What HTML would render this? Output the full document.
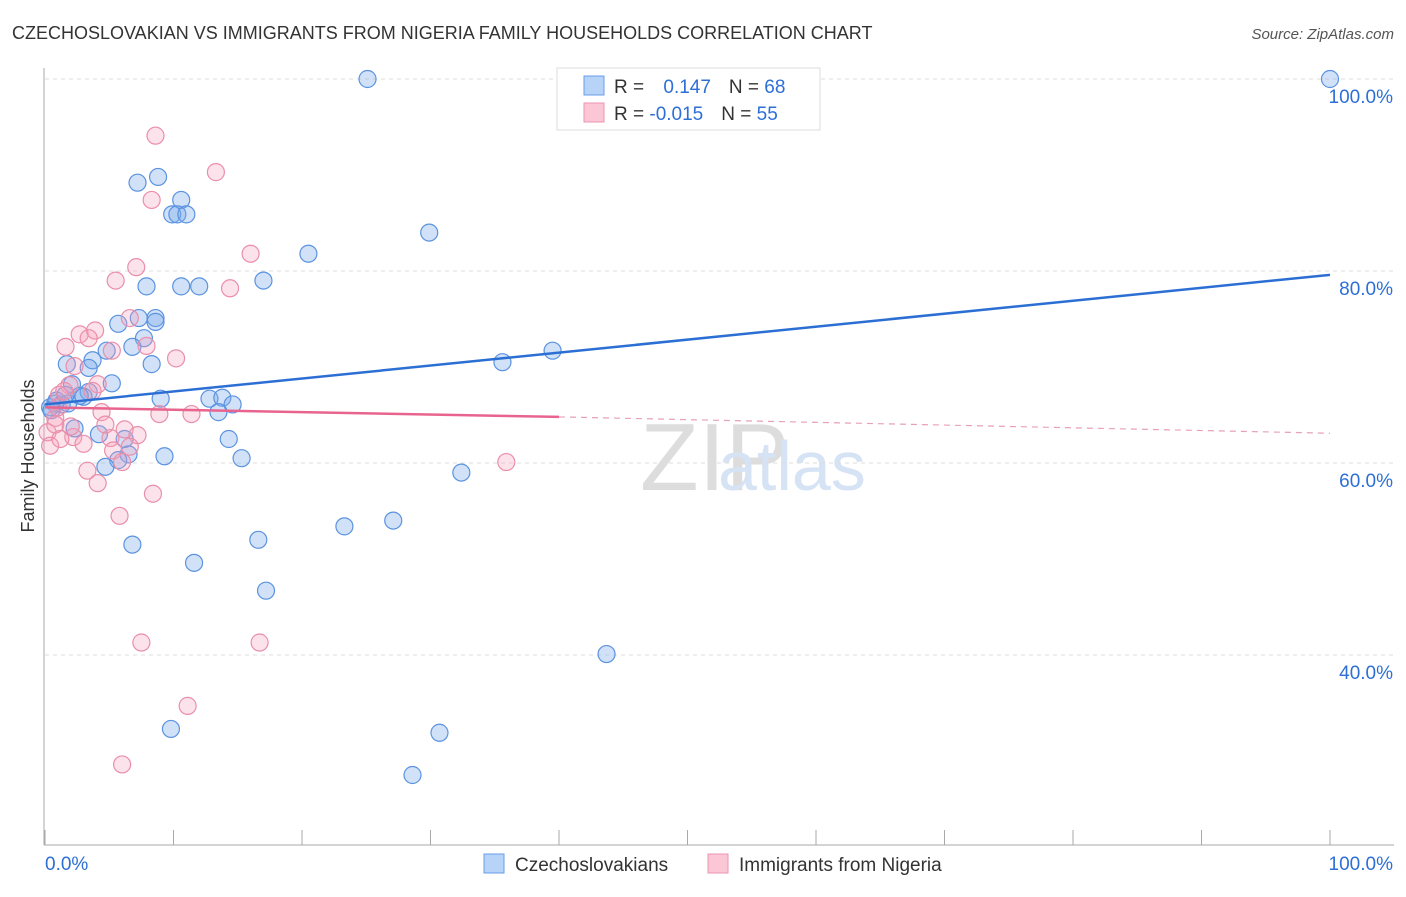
<!DOCTYPE html>
<html><head><meta charset="utf-8"><style>
body{margin:0;background:#fff;font-family:"Liberation Sans",sans-serif;}
svg text{font-family:"Liberation Sans",sans-serif;}
</style></head><body>
<svg width="1406" height="892" id="chart">
<text x="12" y="39" font-size="18" fill="#333">CZECHOSLOVAKIAN VS IMMIGRANTS FROM NIGERIA FAMILY HOUSEHOLDS CORRELATION CHART</text>
<text x="1394" y="39" font-size="15" fill="#555" font-style="italic" text-anchor="end">Source: ZipAtlas.com</text>
<text x="34" y="456" font-size="18" fill="#333" transform="rotate(-90 34 456)" text-anchor="middle">Family Households</text>
<text x="640" y="490" font-size="96" fill="#ddd" font-family="Liberation Serif">ZIP</text>
<text x="718" y="490" font-size="70" fill="#d5e3f5">atlas</text>
<g id="grid"></g><g id="pts"></g><g id="lines"></g>
<g>
<rect x="557" y="68" width="263" height="62" fill="#fff" stroke="#ddd"/>
<rect x="584" y="76" width="20" height="19" fill="#b7d3f7" stroke="#6a9ee8"/>
<rect x="584" y="103" width="20" height="19" fill="#fbc7d6" stroke="#ee93ae"/>
<text x="614" y="93" font-size="19" fill="#333">R = <tspan fill="#2d6fd6" dx="14">0.147</tspan><tspan dx="18">N = </tspan><tspan fill="#2d6fd6">68</tspan></text>
<text x="614" y="120" font-size="19" fill="#333">R = <tspan fill="#2d6fd6">-0.015</tspan><tspan dx="18">N = </tspan><tspan fill="#2d6fd6">55</tspan></text>
</g>
<g>
<rect x="484" y="854" width="20" height="19" fill="#b7d3f7" stroke="#6a9ee8"/>
<text x="515" y="871" font-size="19" fill="#333">Czechoslovakians</text>
<rect x="708" y="854" width="20" height="19" fill="#fbc7d6" stroke="#ee93ae"/>
<text x="739" y="871" font-size="19" fill="#333">Immigrants from Nigeria</text>
</g>
</svg>
<script>
const blueX=[25.1,100,49.8,7.2,8.8,10.6,9.9,10.3,11,29.9,20.5,17,7.9,10.6,12,5.7,7.3,8.6,8.6,7.7,6.8,4.8,3.7,1.7,8.3,3.4,35.6,39.5,5.2,2.1,3.4,3,9,12.8,13.8,14.6,13.5,0.8,1.3,1.8,0.4,2.3,4.2,14.3,6.2,9.3,15.3,6.5,5.7,4.7,32.4,23.3,27.1,16.6,6.8,11.6,17.2,43.7,9.8,30.7,28.6,2.7,0.9,1.6,0.5];
const blueY=[100,100,100,89.2,89.8,87.4,85.9,85.9,85.9,84,81.8,79,78.4,78.4,78.4,74.5,75.1,75.1,74.7,73,72.1,71.7,70.7,70.3,70.3,69.9,70.5,71.7,68.3,68.2,67.4,66.9,66.7,66.7,66.8,66.1,65.3,66.2,66.1,66.2,65.8,63.6,63,62.5,62.5,60.7,60.5,60.9,60.3,59.6,59,53.4,54,52,51.5,49.6,46.7,40.1,32.3,31.9,27.5,67,66.5,67.1,65.5];
const pinkX=[8.6,13.3,8.3,16,5.5,7.1,14.4,6.6,2.7,3.9,3.4,1.6,5.2,7.9,10.2,2.3,1.9,4.1,1.1,1.5,3.7,4.4,8.9,11.4,0.8,0.2,0.4,2.2,3,5.1,6.2,7.2,6.6,5.3,6,3.3,4.1,8.4,35.9,5.8,7.5,16.7,11.1,6,0.8,1.2,2,4.7,1];
const pinkY=[94.1,90.3,87.4,81.8,79,80.4,78.2,75.1,73.4,73.8,73,72.1,71.7,72.2,70.9,70.1,68.1,68.2,67.1,67.5,67.5,65.3,65.1,65.1,64.7,63.2,61.8,62.7,62,62.6,63.5,62.9,61.7,61.3,60.1,59.2,57.9,56.8,60.1,54.5,41.3,41.3,34.7,28.6,64,62.5,63.8,64,65.8];
const yTicks=[100,80,60,40];
const xTicks=[0,100];
const X=v=>45+v*12.85, Y=v=>79+(100-v)*9.6;
const NS="http://www.w3.org/2000/svg";
function mk(t,a,p){const e=document.createElementNS(NS,t);for(const k in a)e.setAttribute(k,a[k]);p.appendChild(e);return e;}
const g=document.getElementById('grid');
yTicks.forEach(v=>{const l=mk('line',{x1:45,x2:1394,y1:Y(v),y2:Y(v),stroke:'#ddd','stroke-dasharray':'4 4'},g);


const t=mk('text',{x:1393,y:Y(v)+24,'font-size':19,fill:'#2d6fd6','text-anchor':'end'},g);t.textContent=v.toFixed(1)+'%';

});
const ax=mk('line',{x1:44,x2:44,y1:68,y2:845,stroke:'#aaa'},g);


const bx=mk('line',{x1:44,x2:1394,y1:845,y2:845,stroke:'#aaa'},g);


for(let i=0;i<=10;i++){const tk=mk('line',{x1:X(i*10),x2:X(i*10),y1:830,y2:845,stroke:'#aaa'},g);

}
xTicks.forEach(v=>{const t=mk('text',{x:v==0?45:1393,y:870,'font-size':19,fill:'#2d6fd6','text-anchor':v==0?'start':'end'},g);t.textContent=v.toFixed(1)+'%';

});
const P=document.getElementById('pts');
blueX.forEach((x,i)=>{const c=mk('circle',{cx:X(x),cy:Y(blueY[i]),r:8.5,fill:'rgba(120,170,235,0.35)',stroke:'#5b93e0','stroke-width':1.2},P);

});
pinkX.forEach((x,i)=>{const c=mk('circle',{cx:X(x),cy:Y(pinkY[i]),r:8.5,fill:'rgba(245,160,185,0.3)',stroke:'#ea8fab','stroke-width':1.2},P);

});
const L=document.getElementById('lines');
const b=mk('line',{x1:X(0),y1:Y(66.1),x2:X(100),y2:Y(79.6),stroke:'#2b6fd4','stroke-width':2.5},L);


const p1=mk('line',{x1:X(0),y1:Y(65.8),x2:X(40),y2:Y(64.8),stroke:'#e8648e','stroke-width':2.5},L);


const p2=mk('line',{x1:X(40),y1:Y(64.8),x2:X(100),y2:Y(63.1),stroke:'#e8a0b8','stroke-width':1.2,'stroke-dasharray':'6 5'},L);


</script>
</body></html>
